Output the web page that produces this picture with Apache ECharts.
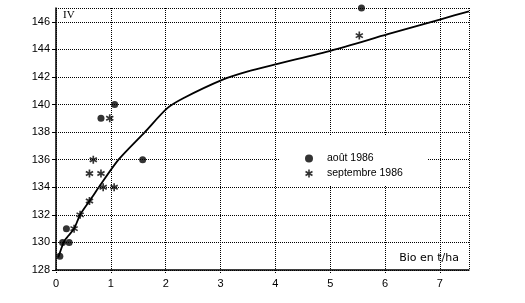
<!DOCTYPE html>
<html>
<head>
<meta charset="utf-8">
<script src="https://cdn.jsdelivr.net/npm/echarts@6/dist/echarts.min.js"></script>
<style>
html,body{margin:0;padding:0;background:#fff;}
#c{width:525px;height:303px;}
</style>
</head>
<body>
<div id="c"></div>
<script>
// Data
const xTicks = [0, 1, 2, 3, 4, 5, 6, 7];
const yTicks = [128, 130, 132, 134, 136, 138, 140, 142, 144, 146];
const aoutX = [0.07, 0.12, 0.24, 0.19, 0.82, 1.07, 1.58, 5.57];
const aoutY = [129, 130, 130, 131, 139, 140, 136, 147];
const septX = [0.33, 0.44, 0.61, 0.61, 0.68, 0.82, 0.86, 1.06, 0.98, 5.53];
const septY = [131, 132, 133, 135, 136, 135, 134, 134, 139, 145];
const curveX = [0.04, 0.15, 0.23, 0.33, 0.44, 0.61, 0.68, 0.78, 1.14, 1.62, 2.02, 2.32, 3.04, 3.5, 4.04, 5.03, 6.05, 7.03, 7.53];
const curveY = [128.9, 130.1, 130.5, 131.0, 132.0, 133.0, 133.4, 134.0, 136.0, 138.0, 139.7, 140.45, 141.8, 142.4, 142.95, 143.93, 145.1, 146.2, 146.76];
const seriesNames = ['août 1986', 'septembre 1986'];
const yTitle = 'IV';
const xTitle = 'Bio en t/ha';

const zip = (xs, ys) => xs.map((x, i) => [x, ys[i]]);
const starPath = 'path://M8 0 L12 0 L12 20 L8 20 Z M0.34 6.73 L2.34 3.27 L19.66 13.27 L17.66 16.73 Z M2.34 16.73 L0.34 13.27 L17.66 3.27 L19.66 6.73 Z';

const chart = echarts.init(document.getElementById('c'), null, {renderer: 'canvas'});
const font = 'Liberation Sans';
chart.setOption({
  backgroundColor: '#fff',
  animation: false,
  grid: {left: 56, top: 8, right: 56, bottom: 33, containLabel: false},
  xAxis: {
    type: 'value', min: 0, max: 7.53, interval: 1,
    axisLine: {show: true, lineStyle: {color: '#000', width: 1.5}},
    axisTick: {show: true, inside: false, length: 4, lineStyle: {color: '#000', type: 'dotted'}},
    axisLabel: {show: true, showMaxLabel: false, margin: 8, color: '#000', fontFamily: font, fontSize: 11,
      formatter: v => (xTicks.indexOf(v) >= 0 ? String(v) : '')},
    splitLine: {show: true, lineStyle: {color: '#000', type: 'dotted', width: 1}}
  },
  yAxis: {
    type: 'value', min: 128, max: 147, interval: 2,
    axisLine: {show: true, lineStyle: {color: '#000', width: 1.5}},
    axisTick: {show: true, inside: false, length: 4, lineStyle: {color: '#000'}},
    axisLabel: {show: true, showMaxLabel: false, margin: 6, color: '#000', fontFamily: font, fontSize: 11,
      formatter: v => (yTicks.indexOf(v) >= 0 ? String(v) : '')},
    splitLine: {show: true, lineStyle: {color: '#000', type: 'dotted', width: 1}}
  },
  legend: {
    orient: 'vertical', left: 279, top: 135, itemWidth: 26, itemHeight: 8, itemGap: 4,
    padding: [18, 25, 6, 26], backgroundColor: '#fff',
    textStyle: {color: '#000', fontFamily: font, fontSize: 10.5},
    data: [
      {name: seriesNames[0], icon: 'circle'},
      {name: seriesNames[1], icon: starPath}
    ]
  },
  graphic: [
    {type: 'text', left: 63, top: 10, style: {text: yTitle, fontFamily: 'Liberation Serif', fontSize: 11, fill: '#000'}},
    {type: 'text', right: 525 - 459, top: 253, style: {text: xTitle, fontFamily: 'DejaVu Sans', fontSize: 11, fill: '#000'}}
  ],
  series: [
    {
      name: 'courbe', type: 'line', data: zip(curveX, curveY), smooth: 0.25,
      showSymbol: false, symbol: 'none', lineStyle: {color: '#000', width: 1.8}, z: 3, silent: true
    },
    {
      name: seriesNames[0], type: 'scatter', data: zip(aoutX, aoutY), symbol: 'circle', symbolSize: 7,
      itemStyle: {color: '#000'}, clip: false, z: 4
    },
    {
      name: seriesNames[1], type: 'scatter', data: zip(septX, septY), symbol: starPath, symbolSize: 8,
      itemStyle: {color: '#000'}, clip: false, z: 4
    }
  ]
});
</script>
</body>
</html>
